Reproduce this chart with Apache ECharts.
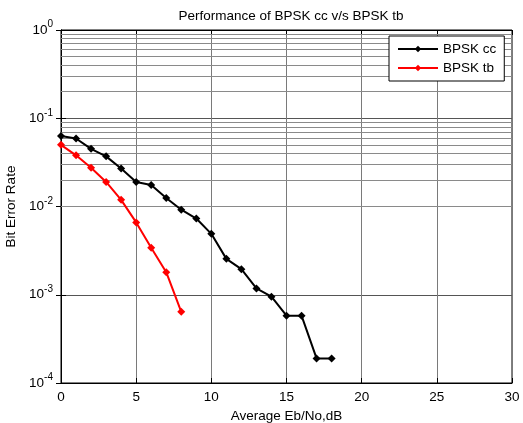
<!DOCTYPE html>
<html>
<head>
<meta charset="utf-8">
<script src="https://cdn.jsdelivr.net/npm/echarts@6/dist/echarts.min.js"></script>
<style>
html,body{margin:0;padding:0;background:#fff;}
#chart{width:523px;height:423px;}
</style>
</head>
<body>
<div id="chart"></div>
<script>
// ---- data ----
var snrCC = [0,1,2,3,4,5,6,7,8,9,10,11,12,13,14,15,16,17,18];
var berCC = [0.063,0.059,0.045,0.037,0.027,0.019,0.0175,0.0125,0.0092,0.0073,0.0049,0.00255,0.00195,0.00118,0.00095,0.00058,0.00058,0.00019,0.00019];
var snrTB = [0,1,2,3,4,5,6,7,8];
var berTB = [0.050,0.038,0.0275,0.019,0.0119,0.0066,0.0034,0.0018,0.00064];
var seriesNames = ['BPSK cc','BPSK tb'];
var titleText = 'Performance of BPSK cc v/s BPSK tb';
var xLabel = 'Average Eb/No,dB';
var yLabel = 'Bit Error Rate';
var xTicks = [0,5,10,15,20,25,30];
var yDecades = [-4,-3,-2,-1,0];

var FONT = 'Liberation Sans, Arial, sans-serif';
var FS = 13.5;

function pairs(xs, ys){ return xs.map(function(x,i){ return [x, ys[i]]; }); }

// minor grid values (2..9 x 10^k)
var minorVals = [];
yDecades.slice(0,-1).forEach(function(d){
  for (var m=2;m<=9;m++) minorVals.push(m*Math.pow(10,d));
});

var chart = echarts.init(document.getElementById('chart'), null, {renderer:'canvas'});
chart.setOption({
  animation:false,
  backgroundColor:'#fff',
  title:{
    text:titleText, left:286, top:4, textAlign:'center',
    textStyle:{fontFamily:FONT, fontSize:FS, fontWeight:'normal', color:'#000'}
  },
  grid:{left:61, right:11, top:30, bottom:40, containLabel:false, outerBoundsMode:'none',
        show:true, borderColor:'#000', borderWidth:1, backgroundColor:'#fff'},
  legend:{
    left:389, top:36, orient:'vertical', zlevel:1, z:20,
    itemWidth:40, itemHeight:8, itemGap:5,
    padding:[6,8,6,8],
    borderColor:'#000', borderWidth:1, backgroundColor:'#fff',
    textStyle:{fontFamily:FONT, fontSize:FS, color:'#000'},
    data:seriesNames
  },
  xAxis:[{
    type:'value', min:xTicks[0], max:xTicks[xTicks.length-1], interval:5,
    name:xLabel, nameLocation:'middle', nameGap:25,
    nameTextStyle:{fontFamily:FONT, fontSize:FS, color:'#000'},
    axisLine:{lineStyle:{color:'#000'}},
    axisTick:{inside:true, length:5, lineStyle:{color:'#000'}},
    axisLabel:{fontFamily:FONT, fontSize:FS, color:'#000', margin:7},
    splitLine:{show:true, lineStyle:{color:'#7a7a7a', width:1}}
  },{
    type:'value', position:'top', min:xTicks[0], max:xTicks[xTicks.length-1], interval:5,
    axisLine:{lineStyle:{color:'#000'}},
    axisTick:{inside:true, length:5, lineStyle:{color:'#000'}},
    axisLabel:{show:false}, splitLine:{show:false}
  }],
  yAxis:[{
    type:'log', logBase:10, min:1e-4, max:1,
    name:yLabel, nameLocation:'middle', nameGap:34, nameRotate:90,
    nameTextStyle:{fontFamily:FONT, fontSize:FS, color:'#000'},
    axisLine:{lineStyle:{color:'#000'}},
    axisTick:{inside:true, length:5, lineStyle:{color:'#000'}},
    axisLabel:{
      margin:8,
      formatter:function(v){
        var e = Math.round(Math.log10(v));
        return '{b|10}{s|' + e + '}';
      },
      rich:{
        b:{fontFamily:FONT, fontSize:FS, color:'#000'},
        s:{fontFamily:FONT, fontSize:10, color:'#000', padding:[0,0,11,0]}
      }
    },
    splitLine:{show:true, lineStyle:{color:'#555', width:1}}
  },{
    type:'log', logBase:10, min:1e-4, max:1, position:'right',
    axisLine:{lineStyle:{color:'#000'}},
    axisTick:{inside:true, length:5, lineStyle:{color:'#000'}},
    axisLabel:{show:false}, splitLine:{show:false}
  }],
  series:[{
    name:'minor', type:'line', data:[], z:1, silent:true,
    markLine:{
      silent:true, symbol:'none', animation:false,
      label:{show:false},
      lineStyle:{color:'#8a8a8a', width:1, type:'solid'},
      data:minorVals.map(function(v){ return {yAxis:v}; })
    }
  },{
    name:seriesNames[0], type:'line', data:pairs(snrCC, berCC), z:5,
    symbol:'diamond', symbolSize:8,
    lineStyle:{color:'#000', width:2}, itemStyle:{color:'#000'}
  },{
    name:seriesNames[1], type:'line', data:pairs(snrTB, berTB), z:5,
    symbol:'diamond', symbolSize:8,
    lineStyle:{color:'#ff0000', width:2}, itemStyle:{color:'#ff0000'}
  }]
});
</script>
</body>
</html>
